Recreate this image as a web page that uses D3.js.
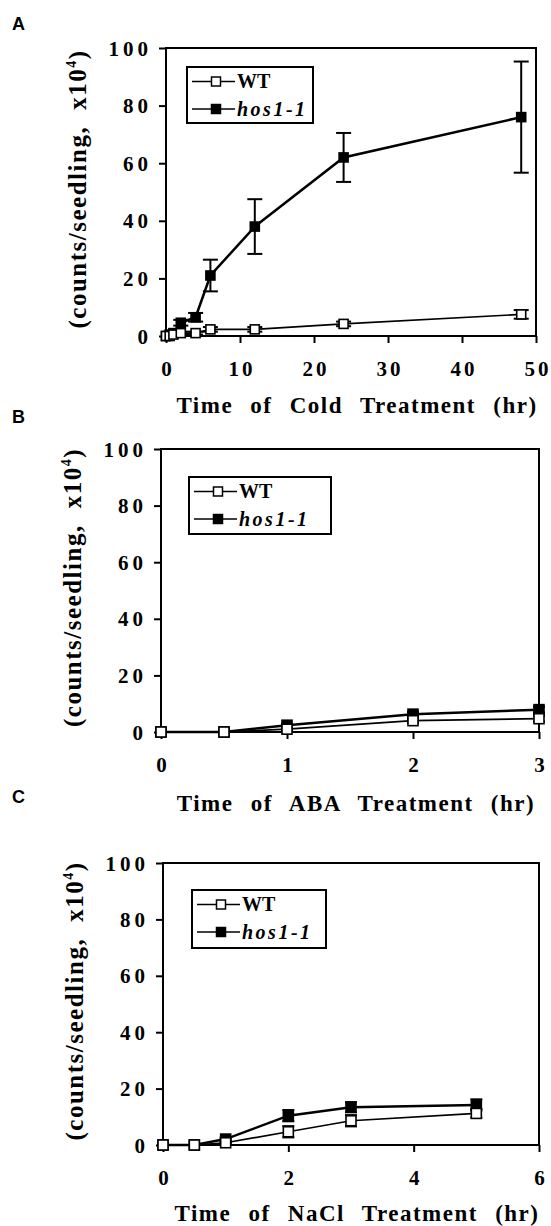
<html>
<head>
<meta charset="utf-8">
<script src="https://cdn.jsdelivr.net/npm/d3@7"></script>
<style>
  body { margin: 0; background: #fff; }
  svg { display: block; }
</style>
</head>
<body>
<div id="chart"></div>
<script>
// ---- data ----
// A: cold
var coldHours = [0, 0.5, 1, 2, 4, 6, 12, 24, 48];
var coldWT     = [0, 0, 0.5, 1, 1, 2.3, 2.3, 4.2, 7.5];
var coldWTErr  = [0, 0, 0.3, 0.5, 0.5, 0.8, 0.8, 0.8, 1.5];
var coldHos    = [0, 0.5, 1, 4.6, 6.5, 21, 38, 62, 76];
var coldHosErr = [0, 0.3, 0.5, 1, 1.5, 5.5, 9.5, 8.5, 19.3];
// B: ABA
var abaHours  = [0, 0.5, 1, 2, 3];
var abaWT     = [0, 0, 1, 4, 4.7];
var abaWTErr  = [0, 0, 0.3, 0.8, 1];
var abaHos    = [0, 0, 2.4, 6.3, 7.9];
var abaHosErr = [0, 0, 0.5, 0.8, 1];
// C: NaCl
var naclHours  = [0, 0.5, 1, 2, 3, 5];
var naclWT     = [0, 0, 0.8, 4.7, 8.6, 11.2];
var naclWTErr  = [0, 0, 0.3, 2, 2, 1.5];
var naclHos    = [0, 0, 2.1, 10.4, 13.4, 14.2];
var naclHosErr = [0, 0, 0.5, 2, 1.8, 2];

var yTicks = [0, 20, 40, 60, 80, 100];
var coldTicks = [0, 10, 20, 30, 40, 50];
var abaTicks = [0, 1, 2, 3];
var naclTicks = [0, 2, 4, 6];
var seriesNames = ["WT", "hos1-1"];
var xTitles = ["Time of Cold Treatment (hr)", "Time of ABA Treatment (hr)", "Time of NaCl Treatment (hr)"];
var panelLetters = ["A", "B", "C"];

var serif = "'Liberation Serif'";
var sans = "'Liberation Sans'";

var svg = d3.select("#chart").append("svg")
    .attr("width", 551)
    .attr("height", 1226);

var panels = [
  { left: 166, right: 536, top: 48, bottom: 336, xMax: 50, xTicks: coldTicks,
    hours: coldHours, wt: coldWT, wtErr: coldWTErr, hos: coldHos, hosErr: coldHosErr,
    letterY: 30, titleY: 413, legend: [187, 67, 126, 56], mk: 9, cap: 15 },
  { left: 161, right: 539, top: 449, bottom: 732, xMax: 3, xTicks: abaTicks,
    hours: abaHours, wt: abaWT, wtErr: abaWTErr, hos: abaHos, hosErr: abaHosErr,
    letterY: 423, titleY: 811, legend: [189, 477, 142, 57], mk: 10, cap: 12 },
  { left: 163, right: 539, top: 863, bottom: 1145, xMax: 6, xTicks: naclTicks,
    hours: naclHours, wt: naclWT, wtErr: naclWTErr, hos: naclHos, hosErr: naclHosErr,
    letterY: 803, titleY: 1221, legend: [192, 890, 134, 58], mk: 10, cap: 12 }
];

panels.forEach(function (p, i) { drawPanel(p, i); });

function drawPanel(p, i) {
  var x = d3.scaleLinear().domain([0, p.xMax]).range([p.left, p.right]);
  var y = d3.scaleLinear().domain([0, 100]).range([p.bottom, p.top]);
  var g = svg.append("g");

  // panel letter
  g.append("text")
      .attr("x", 12).attr("y", p.letterY)
      .style("font-family", sans).style("font-weight", "bold").style("font-size", "18px")
      .text(panelLetters[i]);

  // plot frame
  g.append("rect")
      .attr("x", p.left).attr("y", p.top)
      .attr("width", p.right - p.left).attr("height", p.bottom - p.top)
      .attr("fill", "none").attr("stroke", "#000").attr("stroke-width", 2);

  // y axis
  var ya = g.append("g")
      .attr("transform", "translate(" + p.left + ",0)")
      .call(d3.axisLeft(y).tickValues(yTicks).tickFormat(d3.format("d"))
        .tickSize(7).tickSizeOuter(0).tickPadding(7));
  ya.select(".domain").remove();
  ya.selectAll("line").attr("stroke-width", 2);
  ya.selectAll("text")
      .style("font-family", serif).style("font-weight", "bold").style("font-size", "21px")
      .style("letter-spacing", "4px")
      .attr("dy", "0.34em");

  // x axis
  var xa = g.append("g")
      .attr("transform", "translate(0," + p.bottom + ")")
      .call(d3.axisBottom(x).tickValues(p.xTicks).tickFormat(d3.format("d"))
        .tickSize(7).tickSizeOuter(0));
  xa.select(".domain").remove();
  xa.selectAll("line").attr("stroke-width", 2);
  xa.selectAll("text")
      .style("font-family", serif).style("font-weight", "bold").style("font-size", "21px")
      .style("letter-spacing", "3px")
      .attr("y", 40).attr("dy", null).attr("dx", 1.5);
  g.selectAll(".tick text").attr("fill", "#000");

  // axis titles
  g.append("text")
      .attr("x", (p.left + p.right) / 2 + 6).attr("y", p.titleY)
      .attr("text-anchor", "middle")
      .style("font-family", serif).style("font-weight", "bold").style("font-size", "23px")
      .style("letter-spacing", "1.5px").style("word-spacing", "10px")
      .text(xTitles[i]);

  var yl = g.append("text")
      .attr("transform", "translate(" + (p.left - 80) + "," + ((p.top + p.bottom) / 2 - 3) + ") rotate(-90)")
      .attr("text-anchor", "middle")
      .style("font-family", serif).style("font-weight", "bold").style("font-size", "25px")
      .style("letter-spacing", "1.5px");
  yl.append("tspan").text("(counts/seedling,");
  yl.append("tspan").attr("dx", 16).text("x10");
  yl.append("tspan").attr("dy", -10).style("font-size", "14px").text("4");
  yl.append("tspan").attr("dy", 10).text(")");

  // series
  var series = [
    { vals: p.hos, err: p.hosErr, fill: "#000", lw: 2.5 },
    { vals: p.wt, err: p.wtErr, fill: "#fff", lw: 1.7 }
  ];
  var line = d3.line()
      .x(function (d) { return x(d[0]); })
      .y(function (d) { return y(d[1]); });

  series.forEach(function (s) {
    var pts = p.hours.map(function (h, k) { return [h, s.vals[k], s.err[k]]; });
    g.append("path").datum(pts)
        .attr("d", line).attr("fill", "none")
        .attr("stroke", "#000").attr("stroke-width", s.lw);
    var eb = g.append("g").selectAll("g").data(pts.filter(function (d) { return d[2] > 0; }))
        .enter().append("g").attr("stroke", "#000").attr("stroke-width", 2);
    eb.append("line")
        .attr("x1", function (d) { return x(d[0]); }).attr("x2", function (d) { return x(d[0]); })
        .attr("y1", function (d) { return y(d[1] - d[2]); }).attr("y2", function (d) { return y(d[1] + d[2]); });
    [-1, 1].forEach(function (sgn) {
      eb.append("line")
          .attr("x1", function (d) { return x(d[0]) - p.cap / 2; })
          .attr("x2", function (d) { return x(d[0]) + p.cap / 2; })
          .attr("y1", function (d) { return y(d[1] + sgn * d[2]); })
          .attr("y2", function (d) { return y(d[1] + sgn * d[2]); });
    });
    s.pts = pts;
  });
  series.forEach(function (s) {
    g.append("g").selectAll("rect").data(s.pts).enter().append("rect")
        .attr("x", function (d) { return x(d[0]) - p.mk / 2; })
        .attr("y", function (d) { return y(d[1]) - p.mk / 2; })
        .attr("width", p.mk).attr("height", p.mk)
        .attr("fill", s.fill).attr("stroke", "#000").attr("stroke-width", 1.6);
  });

  // legend
  var L = p.legend;
  var lg = g.append("g");
  lg.append("rect")
      .attr("x", L[0]).attr("y", L[1]).attr("width", L[2]).attr("height", L[3])
      .attr("fill", "#fff").attr("stroke", "#000").attr("stroke-width", 2);
  seriesNames.forEach(function (name, k) {
    var ry = L[1] + (k === 0 ? 14.5 : 42);
    lg.append("line")
        .attr("x1", L[0] + 5).attr("x2", L[0] + 48)
        .attr("y1", ry).attr("y2", ry)
        .attr("stroke", "#000").attr("stroke-width", 1.7);
    lg.append("rect")
        .attr("x", L[0] + 29 - 4.5).attr("y", ry - 4.5)
        .attr("width", 9).attr("height", 9)
        .attr("fill", k === 0 ? "#fff" : "#000").attr("stroke", "#000").attr("stroke-width", 1.5);
    lg.append("text")
        .attr("x", L[0] + 50).attr("y", ry + 6.5)
        .style("font-family", serif).style("font-weight", "bold").style("font-size", "20px")
        .style("font-style", k === 0 ? "normal" : "italic")
        .style("letter-spacing", k === 0 ? "0px" : "2.5px")
        .text(name);
  });
}
</script>
</body>
</html>
